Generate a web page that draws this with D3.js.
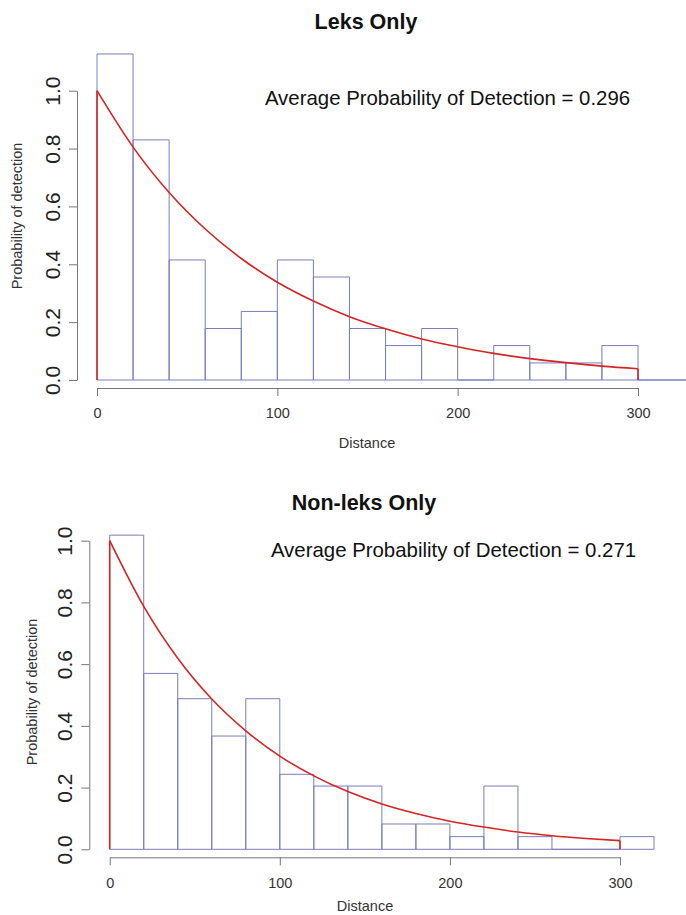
<!DOCTYPE html>
<html>
<head>
<meta charset="utf-8">
<script src="https://cdn.jsdelivr.net/npm/d3@7"></script>
<style>
  body { margin: 0; background: #fff; }
  svg { display: block; font-family: "Liberation Sans", Arial, sans-serif; }
</style>
</head>
<body>
<div id="chart-container"></div>
<script>
// Histogram breaks (distance bins) and bar heights.
const topBreaks = [0, 20, 40, 60, 80, 100, 120, 140, 160, 180, 200, 220, 240, 260, 280, 300, 320, 340];
const topHeights = [1.127, 0.830, 0.415, 0.178, 0.237, 0.415, 0.356, 0.178, 0.119, 0.178, 0, 0.119, 0.059, 0.059, 0.119, 0, 0];

const bottomBreaks = [0, 20, 40, 60, 80, 100, 120, 140, 160, 180, 200, 220, 240, 260, 280, 300, 320];
const bottomHeights = [1.018, 0.570, 0.488, 0.367, 0.488, 0.243, 0.205, 0.205, 0.082, 0.082, 0.041, 0.205, 0.041, 0, 0, 0.041];

// Fitted detection curve, read at every 20 m.
const curveDistance = [0, 20, 40, 60, 80, 100, 120, 140, 160, 180, 200, 220, 240, 260, 280, 300];
const topCurve = [1.0, 0.805, 0.648, 0.522, 0.420, 0.338, 0.273, 0.219, 0.177, 0.142, 0.115, 0.092, 0.074, 0.060, 0.048, 0.039];
const bottomCurve = [1.0, 0.787, 0.619, 0.487, 0.384, 0.302, 0.238, 0.187, 0.147, 0.116, 0.091, 0.072, 0.056, 0.044, 0.035, 0.028];

const xTicks = [0, 100, 200, 300];
const yTicks = [0, 0.2, 0.4, 0.6, 0.8, 1.0];

const width = 686;
const height = 915;
const barColor = "#7c7cbc";
const curveColor = "#d42424";
const axisColor = "#777";

const svg = d3.create("svg")
    .attr("width", width)
    .attr("height", height);

function panel(opt) {
  const x = d3.scaleLinear().domain([0, 300]).range(opt.xRange);
  const y = d3.scaleLinear().domain([0, 1]).range(opt.yRange);
  const g = svg.append("g");

  // Title
  g.append("text")
      .attr("x", opt.titleX).attr("y", opt.titleY)
      .attr("text-anchor", "middle")
      .attr("font-size", 21.5).attr("font-weight", "bold")
      .attr("fill", "#111")
      .text(opt.title);

  // Histogram bars (paths, so empty bins still draw their base)
  const bins = opt.heights.map((h, i) => ({x0: opt.breaks[i], x1: opt.breaks[i + 1], h}));
  g.append("g")
    .selectAll("path")
    .data(bins)
    .join("path")
      .attr("d", d => `M${x(d.x0)},${y(0)}V${y(d.h)}H${x(d.x1)}V${y(0)}Z`)
      .attr("fill", "none")
      .attr("stroke", barColor)
      .attr("stroke-width", 1);

  // Detection function
  const pts = curveDistance.map((d, i) => [d, opt.curve[i]]);
  g.append("path")
      .datum(pts)
      .attr("fill", "none")
      .attr("stroke", curveColor)
      .attr("stroke-width", 1.6)
      .attr("d", d3.line().x(d => x(d[0])).y(d => y(d[1])).curve(d3.curveMonotoneX));
  const first = pts[0], last = pts[pts.length - 1];
  [first, last].forEach(p => {
    g.append("line")
        .attr("x1", x(p[0])).attr("x2", x(p[0]))
        .attr("y1", y(0)).attr("y2", y(p[1]))
        .attr("stroke", curveColor)
        .attr("stroke-width", 1.6);
  });

  // x axis
  const xAxis = g.append("g")
      .attr("transform", `translate(0,${opt.xAxisY})`)
      .call(d3.axisBottom(x).tickValues(xTicks).tickSize(8).tickSizeOuter(0).tickPadding(12));
  xAxis.select(".domain").attr("stroke", axisColor);
  xAxis.selectAll(".tick line").attr("stroke", axisColor);
  xAxis.selectAll(".tick text")
      .attr("font-size", 14.5).attr("fill", "#333")
      .attr("font-family", "Liberation Sans, Arial, sans-serif");

  // y axis
  const yAxis = g.append("g")
      .attr("transform", `translate(${opt.yAxisX},0)`)
      .call(d3.axisLeft(y).tickValues(yTicks).tickFormat(d3.format(".1f")).tickSize(8).tickSizeOuter(0));
  yAxis.select(".domain").attr("stroke", axisColor);
  yAxis.selectAll(".tick line").attr("stroke", axisColor);
  yAxis.selectAll(".tick text")
      .attr("x", 0).attr("y", -17).attr("dy", null)
      .attr("transform", "rotate(-90)")
      .attr("text-anchor", "middle")
      .attr("font-size", 21).attr("fill", "#222")
      .attr("font-family", "Liberation Sans, Arial, sans-serif");

  // Axis labels
  g.append("text")
      .attr("x", opt.xLabelX).attr("y", opt.xLabelY)
      .attr("text-anchor", "middle")
      .attr("font-size", 14.5).attr("fill", "#333")
      .text("Distance");
  g.append("text")
      .attr("transform", `translate(${opt.yLabelX},${opt.yLabelY}) rotate(-90)`)
      .attr("text-anchor", "middle")
      .attr("font-size", 14.5).attr("fill", "#333")
      .text("Probability of detection");

  // Average probability annotation
  g.append("text")
      .attr("x", opt.noteX).attr("y", opt.noteY)
      .attr("text-anchor", "middle")
      .attr("font-size", 20.4).attr("fill", "#111")
      .text(opt.note);
}

panel({
  title: "Leks Only", titleX: 366, titleY: 29,
  breaks: topBreaks, heights: topHeights, curve: topCurve,
  xRange: [97, 638], yRange: [380, 90.7],
  xAxisY: 388, yAxisX: 77,
  xLabelX: 367, xLabelY: 448,
  yLabelX: 22, yLabelY: 216,
  note: "Average Probability of Detection = 0.296", noteX: 447.5, noteY: 105
});

panel({
  title: "Non-leks Only", titleX: 364, titleY: 510,
  breaks: bottomBreaks, heights: bottomHeights, curve: bottomCurve,
  xRange: [109.7, 620], yRange: [849.3, 540.7],
  xAxisY: 857.3, yAxisX: 89.3,
  xLabelX: 365, xLabelY: 911,
  yLabelX: 37, yLabelY: 692,
  note: "Average Probability of Detection = 0.271", noteX: 453.5, noteY: 557
});

d3.select("#chart-container").append(() => svg.node());
</script>
</body>
</html>
